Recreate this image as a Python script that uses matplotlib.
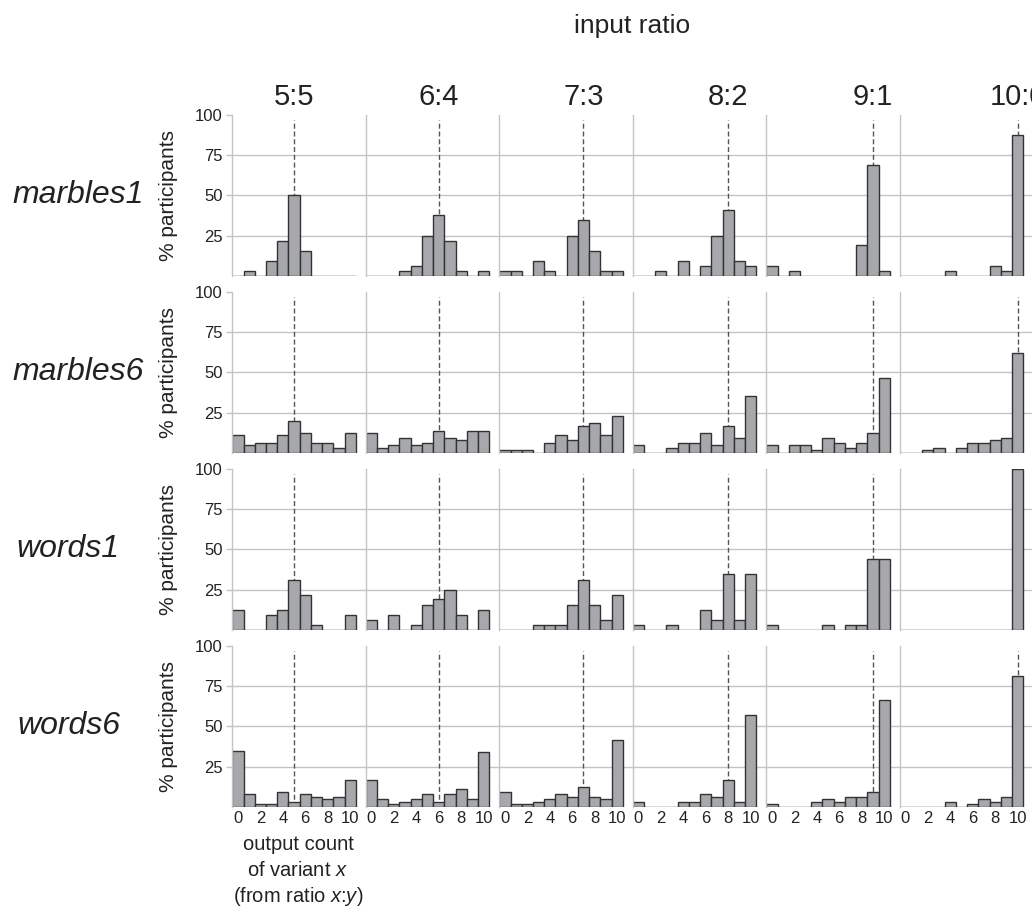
import numpy as np
import matplotlib.pyplot as plt

plt.rcParams['font.family'] = ['Liberation Sans', 'DejaVu Sans']
plt.rcParams['mathtext.fontset'] = 'custom'
plt.rcParams['mathtext.it'] = 'Liberation Sans:italic'
plt.rcParams['mathtext.rm'] = 'Liberation Sans'

ratios = ['5:5', '6:4', '7:3', '8:2', '9:1', '10:0']
input_x = [5, 6, 7, 8, 9, 10]
conditions = ['marbles1', 'marbles6', 'words1', 'words6']
counts = np.arange(11)

# % participants per output count (0..10), one list per input ratio
marbles1 = [
    [0, 3.1, 0, 9.4, 21.9, 50, 15.6, 0, 0, 0, 0],
    [0, 0, 0, 3.1, 6.2, 25, 37.5, 21.9, 3.1, 0, 3.1],
    [3.1, 3.1, 0, 9.4, 3.1, 0, 25, 34.4, 15.6, 3.1, 3.1],
    [0, 0, 3.1, 0, 9.4, 0, 6.2, 25, 40.6, 9.4, 6.2],
    [6.2, 0, 3.1, 0, 0, 0, 0, 0, 18.8, 68.8, 3.1],
    [0, 0, 0, 0, 3.1, 0, 0, 0, 6.2, 3.1, 87.5],
]
marbles6 = [
    [10.8, 4.6, 6.2, 6.2, 10.8, 20, 12.3, 6.2, 6.2, 3.1, 12.3],
    [12.3, 3.1, 4.6, 9.2, 4.6, 6.2, 13.8, 9.2, 7.7, 13.8, 13.8],
    [1.5, 1.5, 1.5, 0, 6.2, 10.8, 7.7, 16.9, 18.5, 10.8, 23.1],
    [4.6, 0, 0, 3.1, 6.2, 6.2, 12.3, 4.6, 16.9, 9.2, 35.4],
    [4.6, 0, 4.6, 4.6, 1.5, 9.2, 6.2, 3.1, 6.2, 12.3, 46.2],
    [0, 0, 1.5, 3.1, 0, 3.1, 6.2, 6.2, 7.7, 9.2, 62.3],
]
words1 = [
    [12.5, 0, 0, 9.4, 12.5, 31.2, 21.9, 3.1, 0, 0, 9.4],
    [6.2, 0, 9.4, 0, 3.1, 15.6, 18.8, 25, 9.4, 0, 12.5],
    [0, 0, 0, 3.1, 3.1, 3.1, 15.6, 31.2, 15.6, 6.2, 21.9],
    [3.1, 0, 0, 3.1, 0, 0, 12.5, 6.2, 34.4, 6.2, 34.4],
    [3.1, 0, 0, 0, 0, 3.1, 0, 3.1, 3.1, 43.8, 43.8],
    [0, 0, 0, 0, 0, 0, 0, 0, 0, 0, 100],
]
words6 = [
    [34.4, 7.7, 1.5, 1.5, 9.2, 3.1, 7.7, 6.2, 4.6, 6.2, 16.9],
    [16.9, 4.6, 1.5, 3.1, 4.6, 7.7, 3.1, 7.7, 10.8, 4.6, 33.8],
    [9.2, 1.5, 1.5, 3.1, 4.6, 7.7, 6.2, 12.3, 6.2, 4.6, 41.5],
    [3.1, 0, 0, 0, 3.1, 3.1, 7.7, 6.2, 16.9, 3.1, 56.9],
    [1.5, 0, 0, 0, 3.1, 4.6, 3.1, 6.2, 6.2, 9.2, 66.2],
    [0, 0, 0, 0, 3.1, 0, 1.5, 4.6, 3.1, 6.2, 81.5],
]
all_rows = [marbles1, marbles6, words1, words6]
xlabel_lines = ['output count', 'of variant $x$', '(from ratio $x$:$y$)']

W, H = 1032, 911
fig = plt.figure(figsize=(W / 100, H / 100), dpi=100)

grid_c = '#c4c4c4'
bar_c = '#a7a8ab'
edge_c = '#333333'
txt_c = '#222222'

col_left, col_step = 232.3, 133.5
row_top, row_step, panel_h = 115, 177, 160.7
unit = 11.22

def fx(px):
    return px / W

def fy(py):
    return 1 - py / H

for r, rowdata in enumerate(all_rows):
    for c in range(6):
        left = col_left + c * col_step
        top = row_top + r * row_step
        ax = fig.add_axes([fx(left), fy(top + panel_h), col_step / W, panel_h / H])
        ax.set_xlim(-0.5, -0.5 + col_step / unit)
        ax.set_ylim(0, 100)
        for y in (25, 50, 75):
            ax.axhline(y, color=grid_c, lw=1, zorder=0)
        ax.axvline(input_x[c], ymax=0.97, color='#555555', lw=1,
                   ls=(0, (3.6, 2)), zorder=1)
        ax.bar(counts, rowdata[c], width=1, color=bar_c, edgecolor=edge_c,
               lw=1, zorder=2)
        for s in ['top', 'right', 'bottom']:
            ax.spines[s].set_visible(False)
        ax.spines['left'].set_color(grid_c)
        ax.spines['left'].set_linewidth(1)
        if c == 0:
            ax.set_yticks([25, 50, 75, 100])
            ax.tick_params(axis='y', length=4, width=1, color=grid_c,
                           labelsize=12, pad=3, labelcolor=txt_c)
        else:
            ax.set_yticks([])
        if r == 3:
            ax.set_xticks(range(0, 11, 2))
            ax.tick_params(axis='x', length=0, pad=3, labelsize=12,
                           labelcolor=txt_c)
        else:
            ax.set_xticks([])

    yc = row_top + r * row_step + panel_h / 2
    fig.text(fx(168), fy(yc), '% participants', rotation=90, ha='center',
             va='center', fontsize=15, color=txt_c)

row_label_x = [78, 78, 68, 69]
for r, cond in enumerate(conditions):
    yc = row_top + r * row_step + panel_h / 2
    fig.text(fx(row_label_x[r]), fy(yc), cond, style='italic', ha='center',
             va='center', fontsize=23, color=txt_c)

# column titles sit right above the dashed input-count lines
for i, lab in enumerate(ratios):
    xc = col_left + col_step * i + (input_x[i] + 0.5) * unit
    fig.text(fx(xc), fy(97), lab, ha='center', va='center',
             fontsize=21, color=txt_c)

fig.text(fx(632), fy(26), 'input ratio', ha='center', va='center',
         fontsize=19, color=txt_c)

for k, line in enumerate(xlabel_lines):
    fig.text(fx(298), fy(845 + 26 * k), line, ha='center', va='center',
             fontsize=14.5, color=txt_c)

fig.savefig('out.png', dpi=100)
